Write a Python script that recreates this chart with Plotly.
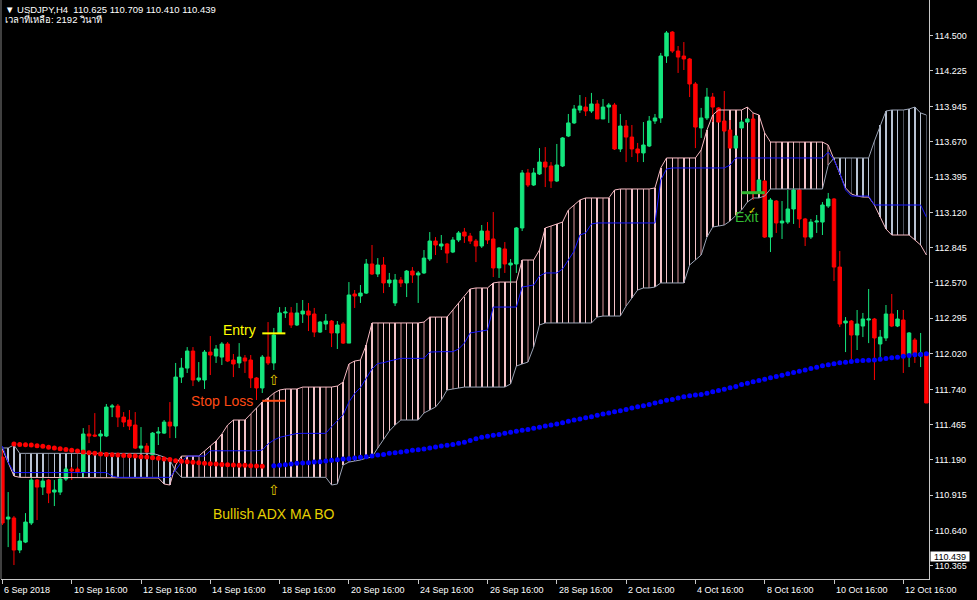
import plotly.graph_objects as go

# ------------------------------------------------------------------ data
tick_bars = [0, 12, 24, 36, 48, 60, 72, 84, 96, 108, 120, 132, 144, 156]
tick_labels = ["6 Sep 2018", "10 Sep 16:00", "12 Sep 16:00", "14 Sep 16:00", "18 Sep 16:00",
               "20 Sep 16:00", "24 Sep 16:00", "26 Sep 16:00", "28 Sep 16:00", "2 Oct 16:00",
               "4 Oct 16:00", "8 Oct 16:00", "10 Oct 16:00", "12 Oct 16:00"]
price_ticks = [110.365, 110.640, 110.915, 111.190, 111.465, 111.740, 112.020, 112.295,
               112.570, 112.845, 113.120, 113.395, 113.670, 113.945, 114.225, 114.500]

symbol_header = "USDJPY,H4"
header_ohlc = [110.625, 110.709, 110.410, 110.439]
current_price = 110.439
timer_label = "เวลาที่เหลือ: 2192 วินาที"

open_ = [111.212, 110.729, 110.737, 110.487, 110.549, 110.698, 111.033, 110.978, 111.033, 110.939,
         110.939, 111.041, 111.119, 111.119, 111.096, 111.392, 111.384, 111.376, 111.376, 111.602,
         111.610, 111.524, 111.501, 111.462, 111.282, 111.298, 111.228, 111.399, 111.399, 111.485,
         111.454, 111.836, 111.906, 112.039, 111.813, 111.813, 112.031, 112.000, 111.992, 112.094,
         111.969, 111.946, 111.985, 111.969, 111.829, 111.751, 111.992, 111.946, 112.180, 112.336,
         112.336, 112.242, 112.328, 112.351, 112.328, 112.187, 112.250, 112.273, 112.180, 112.250,
         112.101, 112.484, 112.468, 112.491, 112.718, 112.640, 112.710, 112.570, 112.414, 112.593,
         112.570, 112.663, 112.632, 112.648, 112.757, 112.897, 112.858, 112.874, 112.811, 112.905,
         112.967, 112.936, 112.897, 112.858, 112.975, 112.913, 112.687, 112.835, 112.710, 112.718,
         112.999, 113.428, 113.334, 113.420, 113.513, 113.482, 113.365, 113.482, 113.716, 113.818,
         113.919, 113.942, 113.911, 113.966, 113.849, 113.942, 113.958, 113.615, 113.794, 113.708,
         113.615, 113.584, 113.638, 113.833, 113.857, 114.340, 114.527, 114.379, 114.340, 114.317,
         114.122, 113.779, 113.857, 114.020, 113.935, 113.833, 113.763, 113.622, 113.779, 113.825,
         113.849, 113.279, 113.365, 112.928, 113.209, 113.038, 113.045, 113.147, 113.295, 113.069,
         112.928, 113.045, 113.045, 113.170, 113.225, 112.694, 112.258, 112.273, 112.164, 112.234,
         112.281, 112.289, 112.094, 112.141, 112.328, 112.234, 112.281, 112.008, 112.125, 112.000,
         112.024]
high_ = [111.267, 110.939, 110.752, 110.620, 110.775, 111.056, 111.041, 111.049, 111.041, 111.033,
         111.072, 111.135, 111.135, 111.135, 111.438, 111.462, 111.555, 111.423, 111.626, 111.626,
         111.626, 111.563, 111.579, 111.563, 111.446, 111.321, 111.407, 111.446, 111.501, 111.641,
         111.946, 111.985, 112.070, 112.070, 111.953, 112.047, 112.156, 112.086, 112.109, 112.109,
         112.016, 112.101, 112.008, 112.008, 111.836, 112.008, 112.265, 112.219, 112.382, 112.382,
         112.382, 112.414, 112.437, 112.414, 112.375, 112.273, 112.328, 112.281, 112.273, 112.265,
         112.577, 112.515, 112.554, 112.757, 112.866, 112.764, 112.772, 112.648, 112.640, 112.616,
         112.671, 112.694, 112.663, 112.827, 112.967, 112.928, 112.944, 112.882, 112.928, 112.975,
         112.999, 112.960, 112.913, 113.022, 113.045, 113.123, 112.850, 112.889, 112.757, 113.006,
         113.451, 113.459, 113.467, 113.622, 113.630, 113.513, 113.654, 113.708, 113.888, 113.958,
         114.036, 114.020, 114.052, 113.997, 114.005, 113.974, 113.974, 113.888, 113.841, 113.802,
         113.662, 113.825, 113.872, 113.888, 114.364, 114.535, 114.535, 114.418, 114.449, 114.325,
         114.137, 113.935, 114.091, 114.052, 113.942, 114.067, 113.841, 113.724, 113.841, 113.857,
         113.888, 113.381, 113.373, 113.233, 113.217, 113.209, 113.295, 113.311, 113.303, 113.077,
         113.069, 113.100, 113.201, 113.272, 113.233, 112.819, 112.304, 112.281, 112.359, 112.336,
         112.523, 112.297, 112.203, 112.398, 112.484, 112.359, 112.359, 112.187, 112.141, 112.180,
         112.031]
low_ = [110.682, 110.510, 110.370, 110.463, 110.541, 110.682, 110.721, 110.916, 110.853, 110.830,
        110.916, 111.025, 111.033, 111.088, 111.049, 111.321, 111.368, 111.251, 111.368, 111.524,
        111.446, 111.446, 111.423, 111.275, 111.243, 111.243, 111.212, 111.306, 111.392, 111.360,
        111.360, 111.790, 111.868, 111.766, 111.797, 111.743, 111.852, 111.946, 111.930, 111.953,
        111.836, 111.906, 111.868, 111.751, 111.657, 111.712, 111.930, 111.891, 112.172, 112.297,
        112.219, 112.234, 112.258, 112.195, 112.148, 112.180, 112.203, 112.070, 112.055, 112.094,
        112.101, 112.375, 112.414, 112.484, 112.632, 112.616, 112.491, 112.538, 112.390, 112.538,
        112.460, 112.570, 112.414, 112.640, 112.741, 112.788, 112.827, 112.725, 112.803, 112.889,
        112.882, 112.874, 112.733, 112.843, 112.874, 112.616, 112.609, 112.648, 112.570, 112.648,
        112.975, 113.318, 113.326, 113.412, 113.318, 113.311, 113.357, 113.474, 113.708, 113.810,
        113.896, 113.872, 113.896, 113.849, 113.849, 113.818, 113.607, 113.591, 113.513, 113.552,
        113.513, 113.513, 113.630, 113.810, 113.818, 114.286, 114.364, 114.208, 114.231, 114.020,
        113.622, 113.701, 113.841, 113.825, 113.825, 113.747, 113.622, 113.622, 113.771, 113.818,
        113.217, 113.272, 112.921, 112.811, 112.960, 112.913, 113.030, 113.030, 112.999, 112.858,
        112.913, 112.960, 112.944, 113.155, 112.585, 112.226, 112.031, 111.953, 112.047, 112.148,
        112.101, 111.813, 111.985, 112.117, 112.226, 112.226, 111.868, 111.914, 111.946, 111.914,
        111.634]
close_ = [110.698, 110.744, 110.487, 110.557, 110.705, 111.033, 110.978, 111.025, 110.931, 110.955,
          111.041, 111.119, 111.103, 111.096, 111.392, 111.376, 111.376, 111.392, 111.602, 111.610,
          111.524, 111.485, 111.454, 111.282, 111.298, 111.251, 111.399, 111.407, 111.485, 111.454,
          111.836, 111.906, 112.039, 111.813, 111.829, 112.031, 112.008, 112.055, 112.094, 111.961,
          111.938, 111.992, 111.961, 111.829, 111.751, 111.992, 111.946, 112.164, 112.336, 112.343,
          112.242, 112.336, 112.351, 112.320, 112.187, 112.265, 112.273, 112.180, 112.242, 112.101,
          112.476, 112.468, 112.491, 112.718, 112.640, 112.710, 112.570, 112.593, 112.593, 112.570,
          112.663, 112.632, 112.648, 112.764, 112.897, 112.866, 112.874, 112.803, 112.905, 112.960,
          112.936, 112.897, 112.858, 112.975, 112.905, 112.687, 112.843, 112.718, 112.725, 112.999,
          113.428, 113.334, 113.428, 113.513, 113.474, 113.365, 113.490, 113.701, 113.818, 113.927,
          113.950, 113.911, 113.966, 113.849, 113.942, 113.958, 113.615, 113.794, 113.708, 113.615,
          113.584, 113.646, 113.833, 113.857, 114.340, 114.520, 114.379, 114.332, 114.317, 114.122,
          113.786, 113.857, 114.020, 113.942, 113.825, 113.755, 113.622, 113.716, 113.825, 113.849,
          113.272, 113.373, 112.928, 113.217, 113.038, 113.053, 113.147, 113.295, 113.069, 112.928,
          113.045, 113.053, 113.178, 113.225, 112.694, 112.250, 112.273, 112.164, 112.250, 112.289,
          112.289, 112.141, 112.148, 112.328, 112.234, 112.289, 112.008, 112.180, 112.008, 112.024,
          111.634]

kijun = [111.298, 111.173, 111.091, 111.091, 111.091, 111.091, 111.091, 111.091, 111.091, 111.091,
         111.091, 111.091, 111.091, 111.091, 111.091, 111.091, 111.091, 111.091, 111.091, 111.064,
         111.054, 111.054, 111.054, 111.054, 111.054, 111.054, 111.054, 111.054, 111.054, 111.054,
         111.111, 111.173, 111.220, 111.220, 111.220, 111.220, 111.261, 111.261, 111.261, 111.261,
         111.261, 111.261, 111.261, 111.261, 111.261, 111.267, 111.314, 111.345, 111.366, 111.376,
         111.384, 111.396, 111.397, 111.397, 111.397, 111.397, 111.397, 111.449, 111.493, 111.540,
         111.641, 111.708, 111.754, 111.829, 111.899, 111.942, 111.948, 111.961, 111.969, 111.982,
         111.982, 111.982, 111.982, 111.982, 112.031, 112.034, 112.034, 112.034, 112.034, 112.055,
         112.101, 112.180, 112.187, 112.195, 112.203, 112.382, 112.382, 112.382, 112.382, 112.382,
         112.538, 112.546, 112.554, 112.624, 112.648, 112.648, 112.648, 112.679, 112.749, 112.819,
         112.944, 112.960, 113.030, 113.038, 113.038, 113.038, 113.038, 113.038, 113.038, 113.038,
         113.038, 113.038, 113.038, 113.038, 113.373, 113.459, 113.467, 113.467, 113.467, 113.467,
         113.467, 113.467, 113.467, 113.467, 113.467, 113.467, 113.490, 113.545, 113.545, 113.545,
         113.545, 113.545, 113.545, 113.545, 113.545, 113.545, 113.545, 113.545, 113.545, 113.545,
         113.545, 113.545, 113.545, 113.591, 113.529, 113.428, 113.295, 113.248, 113.248, 113.248,
         113.248, 113.178, 113.178, 113.178, 113.178, 113.178, 113.178, 113.178, 113.178, 113.178,
         113.084]

span_a = [111.275, 111.173, 111.064, 111.054, 111.054, 111.054, 111.054, 111.054, 111.054, 111.054,
          111.054, 111.054, 111.054, 111.054, 111.054, 111.054, 111.054, 111.054, 111.054, 111.054,
          111.054, 111.054, 111.054, 111.054, 111.054, 111.054, 111.054, 111.049, 111.002, 110.994,
          111.150, 111.220, 111.220, 111.220, 111.220, 111.259, 111.298, 111.337, 111.392, 111.462,
          111.501, 111.501, 111.501, 111.548, 111.595, 111.641, 111.673, 111.711, 111.735, 111.743,
          111.743, 111.743, 111.758, 111.758, 111.758, 111.758, 111.758, 111.758, 111.766, 111.797,
          111.938, 111.961, 111.969, 112.086, 112.258, 112.258, 112.258, 112.258, 112.258, 112.258,
          112.258, 112.258, 112.258, 112.265, 112.304, 112.304, 112.304, 112.304, 112.359, 112.414,
          112.460, 112.523, 112.531, 112.531, 112.531, 112.570, 112.577, 112.577, 112.577, 112.577,
          112.749, 112.749, 112.749, 112.827, 112.999, 113.014, 113.030, 113.045, 113.139, 113.178,
          113.217, 113.233, 113.233, 113.233, 113.233, 113.233, 113.295, 113.303, 113.303, 113.303,
          113.303, 113.303, 113.303, 113.311, 113.467, 113.545, 113.545, 113.545, 113.545, 113.545,
          113.545, 113.607, 113.763, 113.880, 113.919, 113.919, 113.919, 113.919, 113.919, 113.942,
          113.896, 113.880, 113.740, 113.669, 113.669, 113.669, 113.669, 113.669, 113.669, 113.669,
          113.669, 113.669, 113.669, 113.646, 113.529, 113.412, 113.311, 113.264, 113.248, 113.240,
          113.240, 113.178, 113.084, 112.991, 112.944, 112.944, 112.944, 112.944, 112.905, 112.866,
          112.788]

span_b = [111.283, 111.283, 111.306, 111.241, 111.241, 111.241, 111.241, 111.241, 111.241, 111.241,
          111.241, 111.241, 111.241, 111.241, 111.241, 111.241, 111.241, 111.241, 111.241, 111.241,
          111.241, 111.241, 111.241, 111.241, 111.241, 111.241, 111.241, 111.228, 111.212, 111.189,
          111.103, 111.054, 111.054, 111.054, 111.054, 111.054, 111.054, 111.054, 111.054, 111.054,
          111.054, 111.054, 111.054, 111.054, 111.054, 111.054, 111.054, 111.054, 111.054, 111.054,
          111.054, 111.054, 111.054, 111.054, 111.054, 111.054, 111.054, 110.994, 111.002, 111.150,
          111.173, 111.181, 111.189, 111.204, 111.212, 111.283, 111.345, 111.415, 111.462, 111.501,
          111.501, 111.501, 111.501, 111.556, 111.579, 111.602, 111.657, 111.735, 111.743, 111.751,
          111.758, 111.758, 111.758, 111.758, 111.758, 111.758, 111.758, 111.758, 111.782, 111.922,
          111.938, 111.953, 112.070, 112.242, 112.258, 112.258, 112.258, 112.258, 112.258, 112.258,
          112.258, 112.258, 112.258, 112.304, 112.312, 112.312, 112.312, 112.312, 112.390, 112.453,
          112.515, 112.531, 112.531, 112.538, 112.570, 112.570, 112.570, 112.570, 112.570, 112.710,
          112.749, 112.788, 112.928, 113.006, 113.014, 113.022, 113.053, 113.100, 113.139, 113.201,
          113.233, 113.233, 113.248, 113.303, 113.303, 113.303, 113.303, 113.303, 113.303, 113.303,
          113.303, 113.303, 113.303, 113.490, 113.545, 113.545, 113.545, 113.545, 113.545, 113.545,
          113.545, 113.677, 113.802, 113.911, 113.919, 113.919, 113.919, 113.927, 113.942, 113.896,
          113.880]

ma_bear_start = 2
ma_bear = [111.314, 111.311, 111.308, 111.306, 111.301, 111.296, 111.288, 111.283, 111.277, 111.272,
           111.265, 111.259, 111.251, 111.246, 111.241, 111.236, 111.233, 111.230, 111.228, 111.225,
           111.222, 111.220, 111.215, 111.212, 111.207, 111.202, 111.197, 111.194, 111.183, 111.179,
           111.176, 111.171, 111.168, 111.163, 111.160, 111.158, 111.155, 111.152, 111.150, 111.148,
           111.148, 111.145, 111.142, 111.140]
ma_bull_start = 47
ma_bull = [111.144, 111.148, 111.152, 111.158, 111.163, 111.166, 111.168, 111.173, 111.176, 111.181,
           111.187, 111.191, 111.197, 111.199, 111.204, 111.210, 111.215, 111.220, 111.228, 111.233,
           111.241, 111.246, 111.251, 111.257, 111.265, 111.269, 111.275, 111.283, 111.290, 111.298,
           111.304, 111.311, 111.319, 111.327, 111.342, 111.355, 111.366, 111.374, 111.382, 111.389,
           111.397, 111.405, 111.413, 111.421, 111.428, 111.436, 111.444, 111.454, 111.462, 111.470,
           111.480, 111.491, 111.501, 111.509, 111.519, 111.527, 111.538, 111.548, 111.556, 111.566,
           111.574, 111.584, 111.595, 111.605, 111.612, 111.623, 111.634, 111.644, 111.655, 111.662,
           111.672, 111.683, 111.690, 111.696, 111.700, 111.710, 111.721, 111.731, 111.741, 111.752,
           111.762, 111.778, 111.788, 111.799, 111.809, 111.819, 111.830, 111.840, 111.850, 111.861,
           111.871, 111.882, 111.892, 111.903, 111.913, 111.924, 111.932, 111.939, 111.947, 111.952,
           111.957, 111.963, 111.965, 111.967, 111.970, 111.975, 111.981, 111.986, 111.991, 111.999,
           112.004, 112.010, 112.012, 112.017]

entry_price = 112.177
stop_price = 111.651
exit_price = 113.274
entry_bars = [45, 49]
exit_bars = [128, 132]
signal_bar = 47

# ------------------------------------------------------------------ styles
UP = "#14e67d"
DN = "#ff0000"
FONT = "Liberation Sans, Arial, sans-serif"
X_RANGE = [-0.242, 160.45]
Y_RANGE = [110.261, 114.777]

x = list(range(len(open_)))

# cloud hatch (one thin vertical bar per candle between the two spans)
h_base, h_len, h_col = [], [], []
for i in x:
    a, b = span_a[i], span_b[i]
    bull = a >= b
    dark = ((i * 30 + 20) % 130) < 30
    if bull:
        col = "#6e4b4e" if dark else "#f2c3c8"
    else:
        col = "#4a4f5a" if dark else "#b9c3d3"
    h_base.append(min(a, b))
    h_len.append(abs(a - b))
    h_col.append(col)

fig = go.Figure()
fig.add_trace(go.Bar(x=x, y=h_len, base=h_base, width=0.1,
                     marker=dict(color=h_col, line=dict(width=0)),
                     hoverinfo="skip"))

fig.add_trace(go.Candlestick(
    x=x, open=open_, high=high_, low=low_, close=close_,
    increasing=dict(line=dict(color=UP, width=1), fillcolor=UP),
    decreasing=dict(line=dict(color=DN, width=1), fillcolor=DN),
    whiskerwidth=0, hoverinfo="skip"))

fig.add_trace(go.Scatter(x=x, y=span_a, mode="lines",
                         line=dict(color="#f6b9c2", width=1), hoverinfo="skip"))
fig.add_trace(go.Scatter(x=x, y=span_b, mode="lines",
                         line=dict(color="#9aa3b5", width=1), hoverinfo="skip"))
fig.add_trace(go.Scatter(x=x, y=kijun, mode="lines",
                         line=dict(color="#1414ff", width=1), hoverinfo="skip"))

fig.add_trace(go.Scatter(x=list(range(ma_bear_start, ma_bear_start + len(ma_bear))), y=ma_bear,
                         mode="markers", marker=dict(size=5, color="#ff0000", line=dict(width=0)),
                         hoverinfo="skip"))
fig.add_trace(go.Scatter(x=list(range(ma_bull_start, ma_bull_start + len(ma_bull))), y=ma_bull,
                         mode="markers", marker=dict(size=5, color="#0000ff", line=dict(width=0)),
                         hoverinfo="skip"))

# trade levels
fig.add_trace(go.Scatter(x=entry_bars, y=[entry_price, entry_price], mode="lines",
                         line=dict(color="#ffff00", width=2), hoverinfo="skip"))
fig.add_trace(go.Scatter(x=entry_bars, y=[stop_price, stop_price], mode="lines",
                         line=dict(color="#ff4a14", width=2), hoverinfo="skip"))
fig.add_trace(go.Scatter(x=exit_bars, y=[exit_price, exit_price], mode="lines",
                         line=dict(color="#2fb82f", width=3), hoverinfo="skip"))


def note(text, xv, yv, color, size=14, **kw):
    fig.add_annotation(x=xv, y=yv, xref="x", yref="y", text=text, showarrow=False,
                       font=dict(family=FONT, size=size, color=color), **kw)


note("Entry", 41.0, 112.203, "#ffff00")
note("Stop Loss", 38.0, 111.649, "#ff4a14")
note("Bullish ADX MA BO", 46.9, 110.768, "#e6d000")
note("Exit", 128.9, 113.084, "#33bb33")
note("\u21e7", signal_bar, 111.813, "#e0c800", size=14)
note("\u21e7", signal_bar, 110.955, "#e0c800", size=14)
note("\u2713", 129.8, 113.139, "#f0d800", size=10)

# header
fig.add_annotation(xref="paper", yref="paper", x=0, y=1, xanchor="left", yanchor="top",
                   xshift=2, yshift=-2, showarrow=False,
                   text="\u25bc\u00a0" + symbol_header + "\u00a0\u00a0" +
                        " ".join(f"{v:.3f}" for v in header_ohlc),
                   font=dict(family=FONT, size=9.5, color="white"))
fig.add_annotation(xref="paper", yref="paper", x=0, y=1, xanchor="left", yanchor="top",
                   xshift=2, yshift=-11, showarrow=False, text=timer_label,
                   font=dict(family=FONT, size=9.5, color="white"))

# time labels (left aligned at tick, MT4 style)
for b, lab in zip(tick_bars, tick_labels):
    fig.add_annotation(x=b, y=0, xref="x", yref="paper", xanchor="left", yanchor="top",
                       yshift=-4, showarrow=False, text=lab,
                       font=dict(family=FONT, size=9, color="white"))

# current price box
fig.add_annotation(xref="paper", x=1, xanchor="left", xshift=1, yref="y", y=current_price,
                   yanchor="middle", text=f"{current_price:.3f}", showarrow=False,
                   bgcolor="white", width=38, height=9, borderpad=0,
                   font=dict(family=FONT, size=9, color="black"))

# left frame line
fig.add_shape(type="line", xref="paper", yref="paper", x0=0, x1=0, y0=0, y1=1,
              line=dict(color="#808080", width=1))

fig.update_layout(
    width=977, height=600,
    margin=dict(l=1, r=48, t=0, b=21),
    paper_bgcolor="black", plot_bgcolor="black",
    showlegend=False, barmode="overlay", boxgap=0.15,
    font=dict(family=FONT, color="white", size=9),
)
fig.update_xaxes(range=X_RANGE, showgrid=False, zeroline=False, showline=True,
                 linecolor="#c8c8c8", linewidth=1, ticks="outside", ticklen=4,
                 tickcolor="#c8c8c8", tickvals=tick_bars, showticklabels=False,
                 rangeslider=dict(visible=False), fixedrange=True)
fig.update_yaxes(range=Y_RANGE, side="right", showgrid=False, zeroline=False, showline=True,
                 linecolor="#c8c8c8", linewidth=1, ticks="outside", ticklen=3,
                 tickcolor="#c8c8c8", tickvals=price_ticks,
                 ticktext=[f"{v:.3f}" for v in price_ticks],
                 tickfont=dict(family=FONT, size=9, color="white"), fixedrange=True)

fig.write_html("out.html",
               config={"displayModeBar": False},
               post_script="document.body.style.margin='0px';"
                           "document.body.style.overflow='hidden';"
                           "document.body.style.background='black';")
